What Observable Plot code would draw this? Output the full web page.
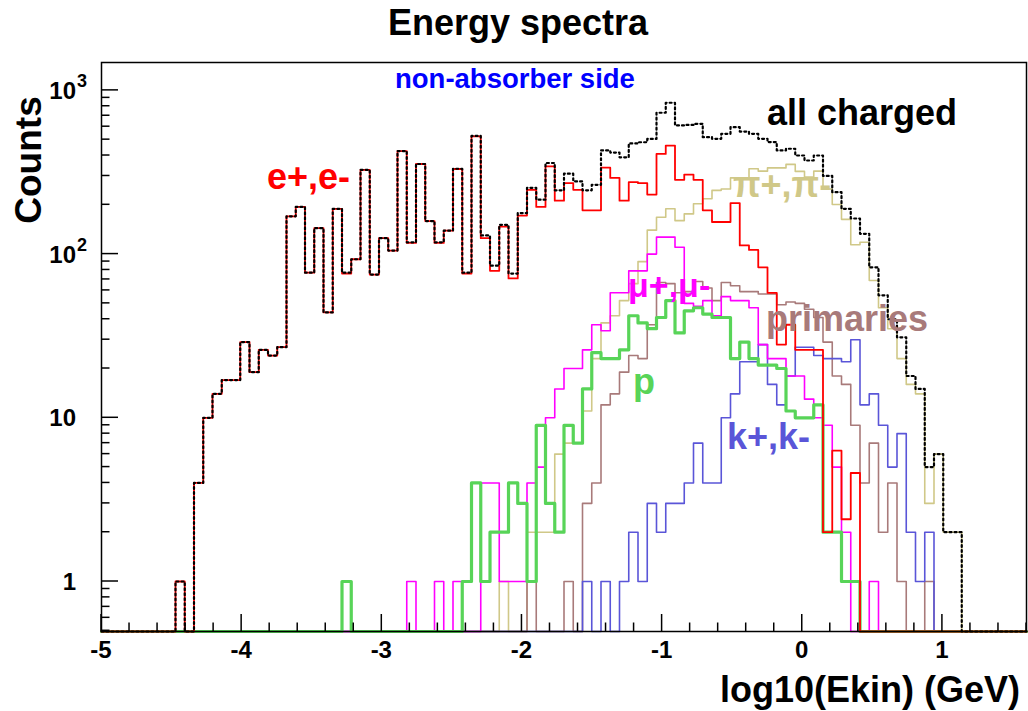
<!DOCTYPE html>
<html><head><meta charset="utf-8">
<script src="https://cdn.jsdelivr.net/npm/d3@7"></script>
<script src="https://cdn.jsdelivr.net/npm/@observablehq/plot@0.6"></script>
<style>
body{margin:0;background:#fff}
svg{font-family:"Liberation Sans",Arial,Helvetica,sans-serif}
</style>
</head><body><div id="chart"></div>
<script>
// histogram binning (from the picture: 100 bins from -5 to 1.6)
const nBins = 100, xMin = -5, xMax = 1.6;

// counts per bin
const allCharged = [0,0,0,0,0,0,0,0,1,0, 4,10,14,17,17,29,19,26,24,27, 170,194,77,144,44,189,77,93,327,75,
 125,105,426,118,355,159,118,139,332,77, 527,130,85,151,76,178,254,215,360,245, 310,278,245,265,430,417,390,474,482,505,
 730,840,611,615,625,518,506,543,596,560, 543,506,483,430,440,400,373,400,300,239, 189,165,133,83,56,40,31,18,15,5,
 6,2,2,0,0,0,0,0,0,0];
const electrons = [0,0,0,0,0,0,0,0,1,0, 4,10,14,17,17,29,19,26,24,27, 170,194,77,144,44,189,76,93,327,75,
 125,105,426,117,355,159,117,139,331,76, 523,125,79,147,71,172,247,194,343,212, 271,247,185,185,337,292,212,275,271,231,
 409,460,284,306,284,185,157,157,205,113, 106,83,58,28,37,26,26,26,2,6.3, 2.4,4.6,0,0,0,0,0,0,0,0,
 0,0,0,0,0,0,0,0,0,0];
const pions = [0,0,0,0,0,0,0,0,0,0, 0,0,0,0,0,0,0,0,0,0, 0,0,0,0,0,0,0,0,0,0,
 0,0,0,0,0,0,0,0,0,0, 0,0,0,1,0,0,2,2,2,6, 7,7,11,23,38,42,52,66,90,140,
 168,189,160,176,203,218,245,250,292,292, 332,321,336,336,353,320,295,321,250,201, 163,114,118,69,47,35,23,16,14,3,
 6,2,2,0,0,0,0,0,0,0];
const muons = [0,0,0,0,0,0,0,0,0,0, 0,0,0,0,0,0,0,0,0,0, 0,0,0,0,0,0,0,0,0,0,
 0,0,0,1,0,0,1,0,1,0, 0,4,4,1,1,1,4,5,10,15, 20,20,26,37,34,58,58,79,79,100,
 127,127,110,50,48,52,42,55,52,52, 47,28,23,23,18,18,13,10,9,5, 2,0,0,1,0,0,0,0,0,0,
 0,0,0,0,0,0,0,0,0,0];
const primaries = [0,0,0,0,0,0,0,0,0,0, 0,0,0,0,0,0,0,0,0,0, 0,0,0,0,0,0,0,0,0,0,
 0,0,0,0,0,0,0,0,0,0, 0,0,0,0,0,0,1,0,0,0, 1,0,3,4,12,14,19,24,23,37,
 67,66,58,59,68,62,52,67,64,59, 59,57,57,49,51,50,46,41,29,18, 16,9,4,7,2,4,1,0,0,1,
 0,0,0,0,0,0,0,0,0,0];
const protons = [0,0,0,0,0,0,0,0,0,0, 0,0,0,0,0,0,0,0,0,0, 0,0,0,0,0,0,1,0,0,0,
 0,0,0,0,0,0,0,0,0,1, 4,1,2,2,4,3,1,9,3,2, 9,7,15,25,23,23,26,42,38,35,
 41,52,33,45,47,43,41,41,23,29, 23,21,21,20,11,10,10,12,2,2, 1,1,0,0,0,0,0,0,0,0,
 0,0,0,0,0,0,0,0,0,0];
const kaons = [0,0,0,0,0,0,0,0,0,0, 0,0,0,0,0,0,0,0,0,0, 0,0,0,0,0,0,0,0,0,0,
 0,0,0,0,0,0,0,0,0,0, 0,0,0,0,0,0,0,0,0,0, 0,0,1,0,1,0,1,2,1,3,
 2,3,3,4,7,4,4,10,14,22, 22,28,16,12,18,27,27,24,23,23, 22,30,12,14,9,5,8,2,1,2,
 0,0,0,0,0,0,0,0,0,0];

const xTickValues = [-5,-4,-3,-2,-1,0,1];
const yTickValues = [1,10,100,1000];
const yTickLabels = [["1",""],["10",""],["10","2"],["10","3"]];

const yMin = 0.495, yMax = 1480;
const binW = (xMax - xMin) / nBins;
function histPoints(counts){
  const pts = counts.map((c,i) => ({x: xMin + i*binW, y: Math.max(c, yMin)}));
  pts.push({x: xMax, y: Math.max(counts[nBins-1], yMin)});
  return pts;
}
const font = '"Liberation Sans",Arial,Helvetica,sans-serif';
const colPi = "#d0c888", colPrim = "#a87a7a", colP = "#58d458", colK = "#5a55d8";

const plot = Plot.plot({
  width: 1028, height: 711,
  marginLeft: 101, marginRight: 2, marginTop: 62, marginBottom: 80,
  style: {background: "white", fontFamily: font},
  x: {domain: [xMin, xMax], axis: null},
  y: {type: "log", domain: [yMin, yMax], axis: null},
  marks: [
    Plot.line(histPoints(pions), {x:"x", y:"y", curve:"step-after", stroke: colPi, strokeWidth: 1.6}),
    Plot.line(histPoints(primaries), {x:"x", y:"y", curve:"step-after", stroke: colPrim, strokeWidth: 1.6}),
    Plot.line(histPoints(kaons), {x:"x", y:"y", curve:"step-after", stroke: colK, strokeWidth: 1.6}),
    Plot.line(histPoints(muons), {x:"x", y:"y", curve:"step-after", stroke: "#ff00ff", strokeWidth: 1.6}),
    Plot.line(histPoints(protons), {x:"x", y:"y", curve:"step-after", stroke: colP, strokeWidth: 3.2}),
    Plot.line(histPoints(electrons), {x:"x", y:"y", curve:"step-after", stroke: "#ff0000", strokeWidth: 1.8}),
    Plot.line(histPoints(allCharged), {x:"x", y:"y", curve:"step-after", stroke: "black", strokeWidth: 2.2, strokeDasharray: "2,3"}),
    Plot.frame({stroke: "black", strokeWidth: 1.5})
  ]
});
document.getElementById("chart").appendChild(plot);

const svg = d3.select(plot);
const xs = plot.scale("x"), ys = plot.scale("y");
const [xa, xb] = xs.range, [ya, yb] = ys.range; // ya bottom, yb top
const g = svg.append("g").attr("stroke", "black").attr("stroke-width", 1.5);
// x ticks (inward, from the bottom)
xTickValues.forEach(v => g.append("line").attr("x1", xs.apply(v)).attr("x2", xs.apply(v)).attr("y1", ya).attr("y2", ya - 17));
d3.range(xMin, xMax + 1e-9, 0.2).forEach(v => {
  if (Math.abs(v - Math.round(v)) > 1e-6) g.append("line").attr("x1", xs.apply(v)).attr("x2", xs.apply(v)).attr("y1", ya).attr("y2", ya - 8.5);
});
// y ticks (log)
yTickValues.forEach(v => g.append("line").attr("x1", xa).attr("x2", xa + 17).attr("y1", ys.apply(v)).attr("y2", ys.apply(v)));
[0.1,1,10,100,1000].forEach(d => d3.range(2,10).forEach(m => {
  const v = d*m; if (v > yMin && v < yMax)
    g.append("line").attr("x1", xa).attr("x2", xa + 8.5).attr("y1", ys.apply(v)).attr("y2", ys.apply(v));
}));
// tick labels
const t = svg.append("g").attr("font-family", font).attr("font-weight", "bold").attr("fill", "black").attr("text-anchor", "start");
xTickValues.forEach(v => t.append("text").attr("x", xs.apply(v)).attr("y", ya + 27).attr("text-anchor", "middle").attr("font-size", 24).text(String(v)));
yTickValues.forEach((v,i) => {
  t.append("text").attr("x", 76).attr("y", ys.apply(v) + 9).attr("text-anchor", "end").attr("font-size", 24).text(yTickLabels[i][0]);
  if (yTickLabels[i][1]) t.append("text").attr("x", 77).attr("y", ys.apply(v) - 3).attr("text-anchor", "start").attr("font-size", 18).text(yTickLabels[i][1]);
});
// titles
t.append("text").attr("x", 518).attr("y", 35).attr("text-anchor", "middle").attr("font-size", 36).text("Energy spectra");
t.append("text").attr("transform", "translate(41,160) rotate(-90)").attr("text-anchor", "middle").attr("font-size", 37).text("Counts");
t.append("text").attr("x", 1020).attr("y", 702).attr("text-anchor", "end").attr("font-size", 36).text("log10(Ekin) (GeV)");
// annotations
const ann = [
  ["non-absorber side", 395, 88, 27.5, "#0000ff"],
  ["all charged", 767, 125, 36, "black"],
  ["e+,e-", 267, 189, 36, "#ff0000"],
  ["\u03c0+,\u03c0-", 733, 197, 36, colPi],
  ["\u03bc+,\u03bc-", 628, 297, 34, "#ff00ff"],
  ["primaries", 766, 331, 36, colPrim],
  ["p", 633, 394, 36, colP],
  ["k+,k-", 727, 449, 36, colK]
];
ann.forEach(([s,x,y,fs,c]) => t.append("text").attr("x", x).attr("y", y).attr("text-anchor", "start").attr("font-size", fs).attr("fill", c).text(s));
</script>
</body></html>
